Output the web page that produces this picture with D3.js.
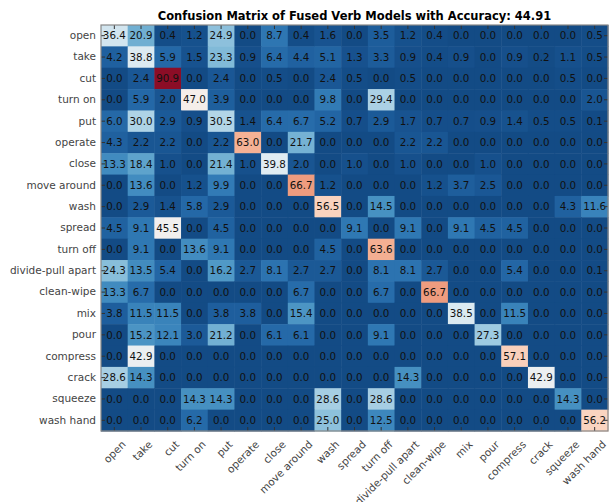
<!DOCTYPE html>
<html>
<head>
<meta charset="utf-8">
<script src="https://cdn.jsdelivr.net/npm/d3@7"></script>
<style>
  body { margin: 0; background: #fff; }
  svg { display: block; font-family: "DejaVu Sans", sans-serif; }
</style>
</head>
<body>
<div id="chart"></div>
<script>
// class labels (rows = true, columns = predicted)
const labels = ["open", "take", "cut", "turn on", "put", "operate", "close", "move around",
    "wash", "spread", "turn off", "divide-pull apart", "clean-wipe", "mix", "pour",
    "compress", "crack", "squeeze", "wash hand"];

const accuracy = 44.91;

// percentages per row
const matrix = [
    [36.4, 20.9, 0.4, 1.2, 24.9, 0.0, 8.7, 0.4, 1.6, 0.0, 3.5, 1.2, 0.4, 0.0, 0.0, 0.0, 0.0, 0.0, 0.5],
    [4.2, 38.8, 5.9, 1.5, 23.3, 0.9, 6.4, 4.4, 5.1, 1.3, 3.3, 0.9, 0.4, 0.9, 0.0, 0.9, 0.2, 1.1, 0.5],
    [0.0, 2.4, 90.9, 0.0, 2.4, 0.0, 0.5, 0.0, 2.4, 0.5, 0.0, 0.5, 0.0, 0.0, 0.0, 0.0, 0.0, 0.5, 0.0],
    [0.0, 5.9, 2.0, 47.0, 3.9, 0.0, 0.0, 0.0, 9.8, 0.0, 29.4, 0.0, 0.0, 0.0, 0.0, 0.0, 0.0, 0.0, 2.0],
    [6.0, 30.0, 2.9, 0.9, 30.5, 1.4, 6.4, 6.7, 5.2, 0.7, 2.9, 1.7, 0.7, 0.7, 0.9, 1.4, 0.5, 0.5, 0.1],
    [4.3, 2.2, 2.2, 0.0, 2.2, 63.0, 0.0, 21.7, 0.0, 0.0, 0.0, 2.2, 2.2, 0.0, 0.0, 0.0, 0.0, 0.0, 0.0],
    [13.3, 18.4, 1.0, 0.0, 21.4, 1.0, 39.8, 2.0, 0.0, 1.0, 0.0, 1.0, 0.0, 0.0, 1.0, 0.0, 0.0, 0.0, 0.0],
    [0.0, 13.6, 0.0, 1.2, 9.9, 0.0, 0.0, 66.7, 1.2, 0.0, 0.0, 0.0, 1.2, 3.7, 2.5, 0.0, 0.0, 0.0, 0.0],
    [0.0, 2.9, 1.4, 5.8, 2.9, 0.0, 0.0, 0.0, 56.5, 0.0, 14.5, 0.0, 0.0, 0.0, 0.0, 0.0, 0.0, 4.3, 11.6],
    [4.5, 9.1, 45.5, 0.0, 4.5, 0.0, 0.0, 0.0, 0.0, 9.1, 0.0, 9.1, 0.0, 9.1, 4.5, 4.5, 0.0, 0.0, 0.0],
    [0.0, 9.1, 0.0, 13.6, 9.1, 0.0, 0.0, 0.0, 4.5, 0.0, 63.6, 0.0, 0.0, 0.0, 0.0, 0.0, 0.0, 0.0, 0.0],
    [24.3, 13.5, 5.4, 0.0, 16.2, 2.7, 8.1, 2.7, 2.7, 0.0, 8.1, 8.1, 2.7, 0.0, 0.0, 5.4, 0.0, 0.0, 0.1],
    [13.3, 6.7, 0.0, 0.0, 0.0, 0.0, 0.0, 6.7, 0.0, 0.0, 6.7, 0.0, 66.7, 0.0, 0.0, 0.0, 0.0, 0.0, 0.0],
    [3.8, 11.5, 11.5, 0.0, 3.8, 3.8, 0.0, 15.4, 0.0, 0.0, 0.0, 0.0, 0.0, 38.5, 0.0, 11.5, 0.0, 0.0, 0.0],
    [0.0, 15.2, 12.1, 3.0, 21.2, 0.0, 6.1, 6.1, 0.0, 0.0, 9.1, 0.0, 0.0, 0.0, 27.3, 0.0, 0.0, 0.0, 0.0],
    [0.0, 42.9, 0.0, 0.0, 0.0, 0.0, 0.0, 0.0, 0.0, 0.0, 0.0, 0.0, 0.0, 0.0, 0.0, 57.1, 0.0, 0.0, 0.0],
    [28.6, 14.3, 0.0, 0.0, 0.0, 0.0, 0.0, 0.0, 0.0, 0.0, 0.0, 14.3, 0.0, 0.0, 0.0, 0.0, 42.9, 0.0, 0.0],
    [0.0, 0.0, 0.0, 14.3, 14.3, 0.0, 0.0, 0.0, 28.6, 0.0, 28.6, 0.0, 0.0, 0.0, 0.0, 0.0, 0.0, 14.3, 0.0],
    [0.0, 0.0, 0.0, 6.2, 0.0, 0.0, 0.0, 0.0, 25.0, 0.0, 12.5, 0.0, 0.0, 0.0, 0.0, 0.0, 0.0, 0.0, 56.2]
];

const margin = {top: 25, right: 1, bottom: 71, left: 101};
const totalW = 609, totalH = 502;
const width = totalW - margin.left - margin.right;
const height = totalH - margin.top - margin.bottom;
const fontFamily = '"DejaVu Sans", sans-serif';

const svg = d3.select("#chart").append("svg")
    .attr("width", totalW)
    .attr("height", totalH);

const g = svg.append("g")
    .attr("transform", `translate(${margin.left},${margin.top})`);

const x = d3.scaleBand().domain(labels).range([0, width]);
const y = d3.scaleBand().domain(labels).range([0, height]);

// reversed RdBu, white sits at about half the max value
const color = d3.scaleSequential(t => d3.interpolateRdBu(1 - t)).domain([-5, 96]);

// flatten to cells
const cells = [];
matrix.forEach((row, i) => {
    row.forEach((v, j) => {
        cells.push({row: labels[i], col: labels[j], value: v});
    });
});

g.selectAll(".cell")
    .data(cells)
    .enter().append("rect")
    .attr("class", "cell")
    .attr("x", d => x(d.col))
    .attr("y", d => y(d.row))
    .attr("width", x.bandwidth() + 0.5)
    .attr("height", y.bandwidth() + 0.5)
    .attr("fill", d => color(d.value));

g.selectAll(".cell-label")
    .data(cells)
    .enter().append("text")
    .attr("class", "cell-label")
    .attr("x", d => x(d.col) + x.bandwidth() / 2)
    .attr("y", d => y(d.row) + y.bandwidth() / 2)
    .attr("dy", "0.36em")
    .attr("text-anchor", "middle")
    .attr("font-size", "10.3px")
    .attr("fill", "#111")
    .text(d => d3.format(".1f")(d.value));

// ticks pointing inward on all four sides
const tickColor = "#333";
const tickLen = 4;

const yAxis = g.append("g")
    .call(d3.axisLeft(y).tickSize(-tickLen).tickSizeOuter(0).tickPadding(5))
    .attr("font-family", fontFamily);
yAxis.selectAll("text").attr("font-size", "10.5px").attr("fill", "#444");

const xAxis = g.append("g")
    .attr("transform", `translate(0,${height})`)
    .call(d3.axisBottom(x).tickSize(-tickLen).tickSizeOuter(0).tickPadding(5))
    .attr("font-family", fontFamily);
xAxis.selectAll("text")
    .attr("font-size", "10.5px")
    .attr("fill", "#444")
    .attr("text-anchor", "end")
    .attr("dy", "0.35em")
    .attr("transform", "translate(6,8) rotate(-45)");

g.append("g")
    .call(d3.axisTop(x).tickSize(-tickLen).tickSizeOuter(0).tickFormat(""));
g.append("g")
    .attr("transform", `translate(${width},0)`)
    .call(d3.axisRight(y).tickSize(-tickLen).tickSizeOuter(0).tickFormat(""));

g.selectAll(".domain").remove();
g.selectAll(".tick line").attr("stroke", tickColor);

// frame
g.append("rect")
    .attr("x", 0).attr("y", 0)
    .attr("width", width).attr("height", height)
    .attr("fill", "none")
    .attr("stroke", "#888")
    .attr("stroke-width", 1.2);

// title
svg.append("text")
    .attr("x", margin.left + width / 2)
    .attr("y", 20)
    .attr("text-anchor", "middle")
    .attr("font-size", "11.5px")
    .attr("font-weight", "bold")
    .attr("fill", "#000")
    .text(`Confusion Matrix of Fused Verb Models with Accuracy: ${accuracy}`);
</script>
</body>
</html>
